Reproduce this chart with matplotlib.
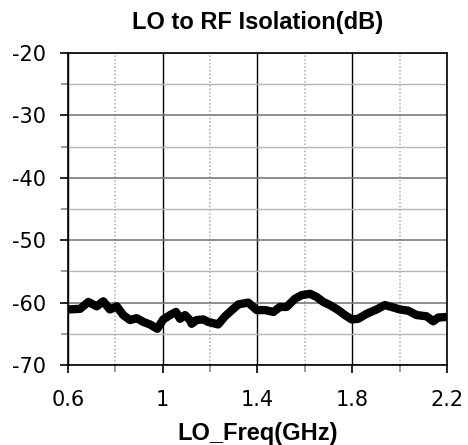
import numpy as np
import matplotlib
matplotlib.use("Agg")
import matplotlib.pyplot as plt
from matplotlib.ticker import MultipleLocator

plt.rcParams["axes.unicode_minus"] = False

# LO to RF isolation
freq_ghz = [0.601, 0.651, 0.686, 0.721, 0.749, 0.777, 0.806, 0.833, 0.862, 0.890,
            0.918, 0.946, 0.977, 1.002, 1.031, 1.056, 1.073, 1.094, 1.115, 1.122,
            1.143, 1.171, 1.192, 1.234, 1.263, 1.298, 1.319, 1.361, 1.397, 1.432,
            1.467, 1.495, 1.523, 1.558, 1.587, 1.622, 1.650, 1.678, 1.706, 1.741,
            1.769, 1.798, 1.825, 1.861, 1.903, 1.938, 1.966, 2.001, 2.036, 2.072,
            2.114, 2.142, 2.163, 2.200]
isolation_db = [-61.1, -61.0, -59.9, -60.6, -59.8, -61.1, -60.6, -62.0, -62.8, -62.5,
                -63.1, -63.5, -64.2, -62.7, -62.0, -61.5, -62.6, -62.0, -62.8, -63.4,
                -62.8, -62.7, -63.1, -63.5, -62.2, -61.0, -60.3, -60.0, -61.2, -61.2,
                -61.5, -60.7, -60.7, -59.4, -58.8, -58.6, -59.1, -59.9, -60.4, -61.2,
                -62.0, -62.7, -62.6, -61.8, -61.1, -60.4, -60.7, -61.1, -61.3, -62.0,
                -62.2, -63.0, -62.4, -62.3]

x_ticks = [0.6, 1.0, 1.4, 1.8, 2.2]
x_labels = ["0.6", "1", "1.4", "1.8", "2.2"]
y_ticks = [-70, -60, -50, -40, -30, -20]

fig = plt.figure(figsize=(4.68, 4.45), dpi=100)
ax = fig.add_axes([0.1453, 0.1798, 0.8097, 0.7012])

ax.plot(freq_ghz, isolation_db, color="black", linewidth=6,
        solid_joinstyle="round", solid_capstyle="round", zorder=3)

ax.set_xlim(0.6, 2.2)
ax.set_ylim(-70, -20)
ax.set_xticks(x_ticks)
ax.set_xticklabels(x_labels)
ax.set_yticks(y_ticks)
ax.xaxis.set_minor_locator(MultipleLocator(0.2))
ax.yaxis.set_minor_locator(MultipleLocator(5))

# grid: solid black verticals, dotted grey between, grey horizontals
ax.grid(which="major", axis="x", color="black", linewidth=1.0)
ax.grid(which="minor", axis="x", color="#b8b8b8", linewidth=1.2, linestyle=(0, (1, 1.2)))
ax.grid(which="major", axis="y", color="#7a7a7a", linewidth=1.2)
ax.grid(which="minor", axis="y", color="#b5b5b5", linewidth=1.0)
ax.set_axisbelow(True)

for s in ax.spines.values():
    s.set_color("black")
    s.set_linewidth(1.2)

ax.tick_params(which="major", direction="out", length=6, width=1.2, color="black",
               labelsize=15)
ax.tick_params(axis="x", which="major", pad=12)
ax.tick_params(axis="y", which="major", pad=10)
ax.tick_params(which="minor", direction="out", length=5, width=1.2, color="#888888")
for lab in ax.get_xticklabels() + ax.get_yticklabels():
    lab.set_family("DejaVu Sans")

ax.set_title("LO to RF Isolation(dB)", fontsize=17, fontweight="bold",
             family="Liberation Sans", pad=17)
ax.set_xlabel("LO_Freq(GHz)", fontsize=17, fontweight="bold",
              family="Liberation Sans", labelpad=9)

fig.savefig("out.png", dpi=100)
